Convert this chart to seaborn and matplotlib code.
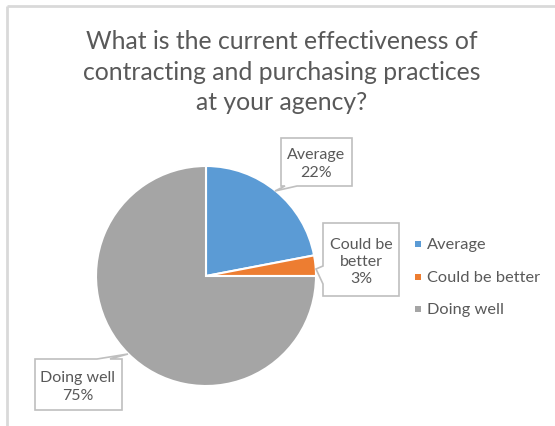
import matplotlib
matplotlib.use("Agg")
import matplotlib.pyplot as plt
from matplotlib.patches import Polygon
import seaborn as sns

# ---- data ----
categories = ["Average", "Could be better", "Doing well"]
values = [22, 3, 75]
callout_names = ["Average", "Could be\nbetter", "Doing well"]
title = "What is the current effectiveness of\ncontracting and purchasing practices\nat your agency?"

sns.set_theme(style="white")
plt.rcParams["font.family"] = ["Lato", "DejaVu Sans"]
colors = ["#5B9BD5", "#ED7D31", "#A5A5A5"]
TXT = "#595959"

W, H = 555, 427
fig = plt.figure(figsize=(W / 100, H / 100), dpi=100)
fig.patch.set_facecolor("white")

# pie axes: center (206,277) px, radius 110 px
cx, cy, r = 206, 277, 110
ax = fig.add_axes([(cx - r) / W, (H - cy - r) / H, 2 * r / W, 2 * r / H])
wedges, _ = ax.pie(values, colors=colors, startangle=90, counterclock=False,
                   radius=1, wedgeprops=dict(edgecolor="white", linewidth=1.5))
ax.set_xlim(-1, 1)
ax.set_ylim(-1, 1)
ax.set_aspect("equal")
ax.axis("off")

# overlay axes in pixel coordinates
ov = fig.add_axes([0, 0, 1, 1], zorder=5)
ov.set_xlim(0, W)
ov.set_ylim(H, 0)
ov.axis("off")
ov.patch.set_alpha(0)

# chart frame
ov.plot([7, W], [7, 7], color="#D9D9D9", lw=2, solid_capstyle="butt")
ov.plot([7, 7], [7, H], color="#D9D9D9", lw=2, solid_capstyle="butt")

# title
ov.text(282, 72, title, ha="center", va="center", fontsize=17.8,
        color=TXT, linespacing=1.42)

# callouts (shapes)
shapes = [
    [(281, 139), (352, 139), (352, 187), (297, 187), (275, 192), (285, 187), (281, 187)],
    [(323, 224), (399, 224), (399, 297), (323, 297), (323, 285), (316, 270), (323, 267)],
    [(35, 360), (97, 360), (128, 355), (110, 360), (122, 360), (122, 411), (35, 411)],
]
centers = [(316, 164), (361, 262), (78, 387)]
for shp, (tx, ty), name, v in zip(shapes, centers, callout_names, values):
    ov.add_patch(Polygon(shp, closed=True, facecolor="white",
                         edgecolor="#BFBFBF", lw=1.2, joinstyle="miter"))
    ov.text(tx, ty, f"{name}\n{v}%", ha="center", va="center",
            fontsize=11.5, color=TXT, linespacing=1.3)

# legend
leg_y = [245, 278, 310]
for c, name, y in zip(colors, categories, leg_y):
    ov.scatter([418], [y], marker="s", s=24, color=c, linewidths=0)
    ov.text(427, y, name, ha="left", va="center", fontsize=11.8, color=TXT)

fig.savefig("out.png", dpi=100, facecolor="white")
